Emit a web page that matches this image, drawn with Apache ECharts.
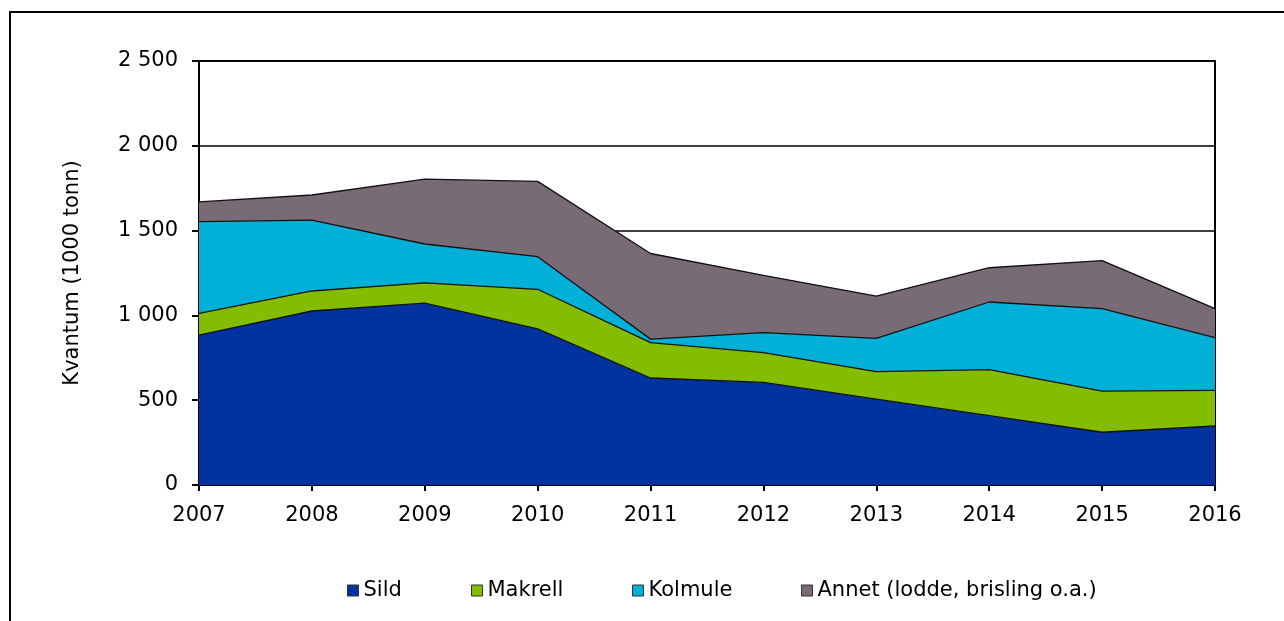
<!DOCTYPE html>
<html>
<head>
<meta charset="utf-8">
<script src="https://cdn.jsdelivr.net/npm/echarts@6/dist/echarts.min.js"></script>
<style>
html,body{margin:0;padding:0;background:#fff;}
#chart{width:1284px;height:621px;}
</style>
</head>
<body>
<div id="chart"></div>
<script>
const years = ['2007','2008','2009','2010','2011','2012','2013','2014','2015','2016'];
const sild    = [884, 1026, 1072, 920, 631, 605, 506, 409, 311, 348];
const makrell = [128, 118, 120, 234, 208, 175, 162, 271, 243, 210];
const kolmule = [541, 418, 229, 192, 21, 118, 197, 399, 486, 311];
const annet   = [116, 148, 382, 444, 505, 338, 249, 202, 283, 171];
const seriesNames = ['Sild', 'Makrell', 'Kolmule', 'Annet (lodde, brisling o.a.)'];
const yTicks = [0, 500, 1000, 1500, 2000, 2500];

const colors = ['#0033A0', '#84BC00', '#00B0D6', '#796B75'];
const FONT = 'DejaVu Sans';

const chart = echarts.init(document.getElementById('chart'), null, {renderer: 'canvas'});

function fmt(v) {
  return String(v).replace(/\B(?=(\d{3})+(?!\d))/g, ' ');
}

const dataSets = [sild, makrell, kolmule, annet];
const series = seriesNames.map((n, i) => ({
  name: n,
  type: 'line',
  stack: 'total',
  data: dataSets[i],
  symbol: 'none',
  lineStyle: {color: '#111', width: 1.3},
  areaStyle: {color: colors[i], opacity: 1},
  itemStyle: {color: colors[i], borderColor: '#222', borderWidth: 1},
  emphasis: {disabled: true},
  z: 2
}));

const legendLefts = [347, 471, 632, 801];
const legends = seriesNames.map((n, i) => ({
  data: [n],
  left: legendLefts[i],
  top: 580,
  icon: 'rect',
  itemWidth: 11,
  itemHeight: 11,
  itemGap: 0,
  padding: 0,
  selectedMode: false,
  itemStyle: {borderColor: '#333', borderWidth: 1},
  textStyle: {fontFamily: FONT, fontSize: 21, color: '#000', padding: [0, 0, 0, 0]}
}));

chart.setOption({
  animation: false,
  backgroundColor: '#fff',
  graphic: [{
    type: 'rect',
    shape: {x: 10, y: 12, width: 1400, height: 800},
    style: {fill: 'none', stroke: '#000', lineWidth: 2},
    silent: true
  }],
  grid: {
    left: 199, right: 69, top: 61, bottom: 136,
    show: true, borderColor: '#000', borderWidth: 2, backgroundColor: 'transparent'
  },
  legend: legends,
  xAxis: {
    type: 'category',
    data: years,
    boundaryGap: false,
    axisLine: {lineStyle: {color: '#000', width: 2}},
    axisTick: {show: true, length: 6, lineStyle: {color: '#000', width: 2}},
    axisLabel: {fontFamily: FONT, fontSize: 21, color: '#000', margin: 20},
    splitLine: {show: false}
  },
  yAxis: {
    type: 'value',
    min: yTicks[0],
    max: yTicks[yTicks.length - 1],
    interval: 500,
    name: 'Kvantum (1000 tonn)',
    nameLocation: 'middle',
    nameGap: 98,
    nameRotate: 90,
    nameTextStyle: {fontFamily: FONT, fontSize: 21, color: '#000', padding: [0, 0, 18, 0]},
    axisLine: {show: true, lineStyle: {color: '#000', width: 2}},
    axisTick: {show: true, length: 7, lineStyle: {color: '#000', width: 2}},
    axisLabel: {fontFamily: FONT, fontSize: 21, color: '#000', margin: 21, formatter: fmt},
    splitLine: {show: true, lineStyle: {color: '#000', width: 1.5}}
  },
  series: series
});
</script>
</body>
</html>
